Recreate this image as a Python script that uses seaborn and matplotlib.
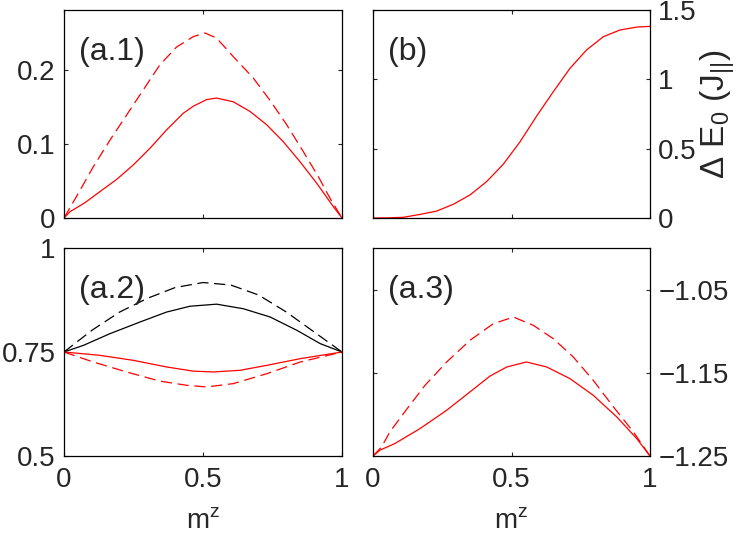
import matplotlib
matplotlib.use("Agg")
import matplotlib.pyplot as plt
import seaborn as sns

# -------------------------
# Data
# -------------------------
# (a.1)
a1_dash_x = [0, 0.051, 0.105, 0.165, 0.225, 0.285, 0.345, 0.405, 0.465, 0.507, 0.549, 0.609, 0.681, 0.741, 0.801, 0.861, 0.915, 0.957, 1]
a1_dash_y = [0, 0.033, 0.069, 0.105, 0.139, 0.173, 0.207, 0.231, 0.245, 0.250, 0.243, 0.218, 0.189, 0.159, 0.126, 0.0896, 0.0558, 0.0266, 0]
a1_solid_x = [0, 0.0216, 0.0755, 0.129, 0.19, 0.249, 0.309, 0.369, 0.429, 0.465, 0.513, 0.549, 0.609, 0.669, 0.729, 0.789, 0.849, 0.909, 0.969, 1]
a1_solid_y = [0, 0.0085, 0.0207, 0.0356, 0.0523, 0.0716, 0.0941, 0.119, 0.1415, 0.151, 0.160, 0.162, 0.157, 0.144, 0.126, 0.103, 0.076, 0.047, 0.0153, 0]

# (b)
b_x = [0, 0.05, 0.11, 0.17, 0.23, 0.29, 0.35, 0.41, 0.47, 0.531, 0.591, 0.651, 0.711, 0.771, 0.832, 0.892, 0.952, 1]
b_y = [0, 0.001, 0.005, 0.026, 0.05, 0.099, 0.166, 0.262, 0.387, 0.55, 0.736, 0.911, 1.079, 1.212, 1.308, 1.356, 1.377, 1.382]

# (a.2)
a2_kdash_x = [0, 0.1, 0.2, 0.3, 0.4, 0.5, 0.6, 0.7, 0.8, 0.9, 1]
a2_kdash_y = [0.75, 0.802, 0.846, 0.879, 0.905, 0.917, 0.911, 0.887, 0.846, 0.798, 0.75]
a2_ksolid_x = [0, 0.07, 0.165, 0.273, 0.369, 0.453, 0.549, 0.645, 0.742, 0.838, 0.922, 1]
a2_ksolid_y = [0.75, 0.766, 0.794, 0.822, 0.846, 0.860, 0.865, 0.854, 0.834, 0.802, 0.770, 0.75]
a2_rsolid_x = [0, 0.129, 0.249, 0.369, 0.465, 0.537, 0.633, 0.73, 0.85, 1]
a2_rsolid_y = [0.75, 0.742, 0.730, 0.714, 0.704, 0.702, 0.706, 0.718, 0.734, 0.75]
a2_rdash_x = [0, 0.105, 0.225, 0.345, 0.441, 0.513, 0.609, 0.73, 0.85, 1]
a2_rdash_y = [0.75, 0.726, 0.702, 0.680, 0.670, 0.666, 0.674, 0.698, 0.726, 0.75]

# (a.3)
a3_dash_x = [0, 0.031, 0.061, 0.128, 0.188, 0.266, 0.35, 0.434, 0.507, 0.579, 0.651, 0.723, 0.795, 0.868, 0.94, 1]
a3_dash_y = [-1.25, -1.239, -1.221, -1.191, -1.165, -1.137, -1.111, -1.091, -1.083, -1.093, -1.109, -1.131, -1.159, -1.191, -1.221, -1.25]
a3_solid_x = [0, 0.025, 0.079, 0.17, 0.266, 0.35, 0.422, 0.483, 0.554, 0.627, 0.711, 0.795, 0.88, 0.952, 1]
a3_solid_y = [-1.25, -1.243, -1.235, -1.217, -1.195, -1.173, -1.154, -1.143, -1.137, -1.143, -1.157, -1.177, -1.203, -1.229, -1.25]

# -------------------------
# Style
# -------------------------
sns.set_theme(style="ticks")
plt.rcParams['font.family'] = ['Liberation Sans', 'DejaVu Sans']
plt.rcParams.update({
    'font.size': 20, 'axes.labelsize': 20,
    'xtick.labelsize': 20, 'ytick.labelsize': 20,
    'xtick.direction': 'in', 'ytick.direction': 'in',
    'xtick.major.size': 3, 'ytick.major.size': 3,
    'xtick.major.width': 0.8, 'ytick.major.width': 0.8,
    'axes.linewidth': 0.9, 'axes.edgecolor': 'black',
    'xtick.major.pad': 8, 'ytick.major.pad': 6,
    'mathtext.fontset': 'custom', 'mathtext.rm': 'Liberation Sans',
    'mathtext.it': 'Liberation Sans', 'mathtext.default': 'regular',
})

W, H = 749, 538
fig = plt.figure(figsize=(W / 100, H / 100), dpi=100)

def box(l, r, t, b):
    return [l / W, (H - b) / H, (r - l) / W, (b - t) / H]

ax1 = fig.add_axes(box(64, 342, 10, 218))
axb = fig.add_axes(box(373, 650, 10, 218))
ax2 = fig.add_axes(box(64, 342, 248, 456))
ax3 = fig.add_axes(box(373, 650, 248, 456))

dash = (0, (9, 4.5))
lw = 0.9

def line(ax, x, y, color, ls='-'):
    sns.lineplot(x=x, y=y, ax=ax, color=color, linewidth=lw, linestyle=ls,
                 sort=False, estimator=None)

line(ax1, a1_dash_x, a1_dash_y, 'red', dash)
line(ax1, a1_solid_x, a1_solid_y, 'red')
line(axb, b_x, b_y, 'red')
line(ax2, a2_kdash_x, a2_kdash_y, 'black', dash)
line(ax2, a2_ksolid_x, a2_ksolid_y, 'black')
line(ax2, a2_rsolid_x, a2_rsolid_y, 'red')
line(ax2, a2_rdash_x, a2_rdash_y, 'red', dash)
line(ax3, a3_dash_x, a3_dash_y, 'red', dash)
line(ax3, a3_solid_x, a3_solid_y, 'red')

for ax in (ax1, axb, ax2, ax3):
    ax.set_xlim(0, 1)
    ax.set_xticks([0, 0.5, 1])
    ax.tick_params(top=True, right=True, left=True, bottom=True)
    for s in ax.spines.values():
        s.set_visible(True)
    ax.set_xlabel('')
    ax.set_ylabel('')

ax1.set_ylim(0, 0.281)
ax1.set_yticks([0, 0.1, 0.2])
ax1.set_yticklabels(['0', '0.1', '0.2'])
ax1.set_xticklabels([])

axb.set_ylim(0, 1.5)
axb.set_yticks([0, 0.5, 1, 1.5])
axb.set_yticklabels(['0', '0.5', '1', '1.5'])
axb.set_xticklabels([])
axb.tick_params(labelleft=False, labelright=True)
axb.yaxis.set_label_position('right')
axb.set_ylabel(r'$\Delta$ E$_0$ (J$_{||}$)', labelpad=1, fontsize=24)

ax2.set_ylim(0.5, 1)
ax2.set_yticks([0.5, 0.75, 1])
ax2.set_yticklabels(['0.5', '0.75', '1'])
ax2.set_xticklabels(['0', '0.5', '1'])
ax2.set_xlabel('m$^z$', labelpad=11)

ax3.set_ylim(-1.25, -1.0)
ax3.set_yticks([-1.25, -1.15, -1.05])
ax3.set_yticklabels(['\u22121.25', '\u22121.15', '\u22121.05'])
ax3.tick_params(labelleft=False, labelright=True)
ax3.set_xticklabels(['0', '0.5', '1'])
ax3.set_xlabel('m$^z$', labelpad=11)

for ax, lab in ((ax1, '(a.1)'), (axb, '(b)'), (ax2, '(a.2)'), (ax3, '(a.3)')):
    ax.text(0.054, 0.80, lab, transform=ax.transAxes, fontsize=23, va='center')

fig.savefig('out.png', dpi=100)
